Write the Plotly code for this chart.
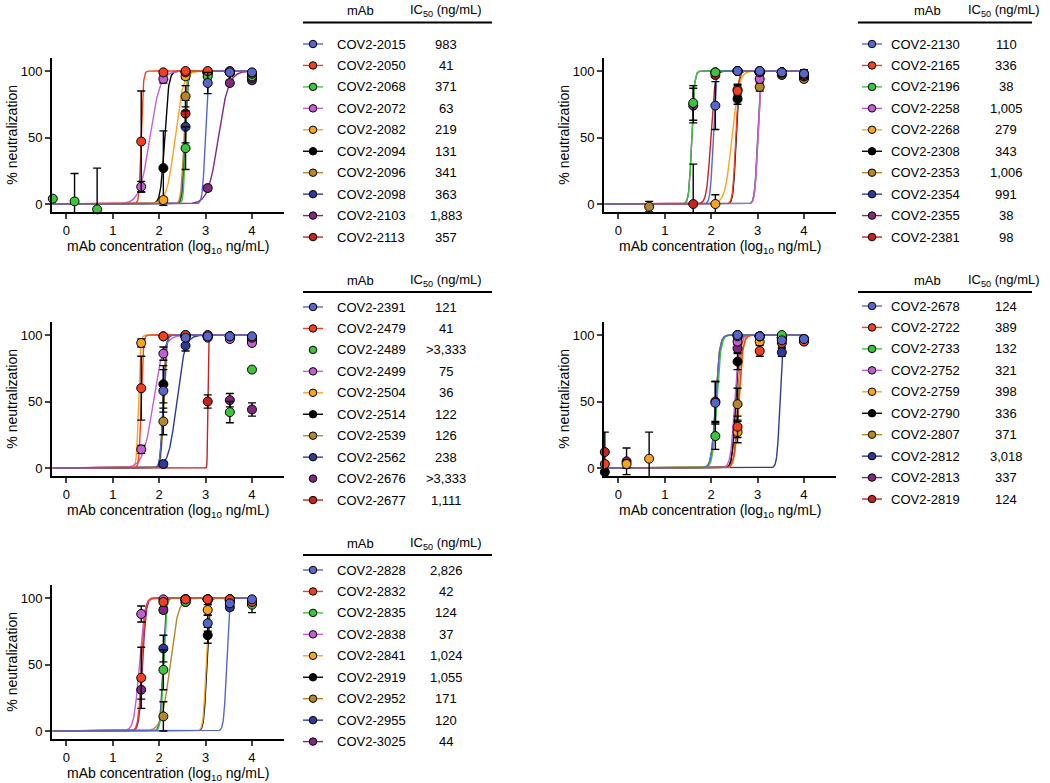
import numpy as np
import plotly.graph_objects as go

# ---------------- data ----------------
CONC = [10000, 3333, 1111, 370, 123, 41, 13.7, 4.6, 1.5, 0.51]   # ng/mL (3-fold dilutions)
COLORS = ["#5866cc", "#f2401f", "#3cc43c", "#c25fd2", "#f9a41e",
          "#000000", "#b3882a", "#2f3a96", "#7f2a7c", "#c4231f"]
N = None

P1_NAMES = ["COV2-2015", "COV2-2050", "COV2-2068", "COV2-2072", "COV2-2082",
            "COV2-2094", "COV2-2096", "COV2-2098", "COV2-2103", "COV2-2113"]
P1_IC50 = ["983", "41", "371", "63", "219", "131", "341", "363", "1,883", "357"]
P1_HILL = [15, 20, 20, 4, 5, 10, 15, 15, 4, 15]
P1_VALUES = [
    [99, 99, 91, N, N, N, N, N, N, N],
    [98, 100, 100, 100, 99, 47, N, N, N, N],
    [96, 99, 96, 42, N, N, N, -4, 2, 4],
    [95, 99, 99, 99, 94, 13, N, N, N, N],
    [97, 99, 99, 96, 3, N, N, N, N, N],
    [96, 99, 99, 99, 27, N, N, N, N, N],
    [96, 99, 99, 81, N, N, N, N, N, N],
    [95, 99, 99, 58, N, N, N, N, N, N],
    [93, 91, 12, N, N, N, N, N, N, N],
    [97, 99, 98, 68, N, N, N, N, N, N],
]
P1_SD = [
    [2, 2, 8, 0, 0, 0, 0, 0, 0, 0],
    [1, 1, 1, 1, 1, 38, 0, 0, 0, 0],
    [2, 1, 2, 16, 0, 0, 0, 31, 21, 1],
    [2, 1, 1, 1, 3, 4, 0, 0, 0, 0],
    [2, 1, 1, 2, 2, 0, 0, 0, 0, 0],
    [2, 1, 1, 1, 28, 0, 0, 0, 0, 0],
    [2, 1, 1, 8, 0, 0, 0, 0, 0, 0],
    [2, 1, 1, 12, 0, 0, 0, 0, 0, 0],
    [2, 2, 2, 0, 0, 0, 0, 0, 0, 0],
    [2, 1, 2, 10, 0, 0, 0, 0, 0, 0],
]

P2_NAMES = ["COV2-2130", "COV2-2165", "COV2-2196", "COV2-2258", "COV2-2268",
            "COV2-2308", "COV2-2353", "COV2-2354", "COV2-2355", "COV2-2381"]
P2_IC50 = ["110", "336", "38", "1,005", "279", "343", "1,006", "991", "38", "98"]
P2_HILL = [15, 15, 15, 15, 6, 15, 15, 15, 15, 10]
P2_VALUES = [
    [98, 99, 100, 100, 74, N, N, N, N, N],
    [97, 99, 99, 85, N, N, N, N, N, N],
    [98, 99, 100, 100, 99, 76, N, N, N, N],
    [96, 98, 94, N, N, N, N, N, N, N],
    [97, 99, 99, 86, 0, N, N, N, N, N],
    [96, 99, 99, 79, N, N, N, N, N, N],
    [94, 97, 88, N, N, N, N, -2, N, N],
    [97, 99, 99, N, N, N, N, N, N, N],
    [97, 99, 99, 100, 99, 74, N, N, N, N],
    [96, 99, 99, 100, 97, 0, N, N, N, N],
]
P2_SD = [
    [3, 1, 1, 1, 18, 0, 0, 0, 0, 0],
    [2, 1, 1, 4, 0, 0, 0, 0, 0, 0],
    [2, 1, 1, 1, 1, 13, 0, 0, 0, 0],
    [2, 1, 2, 0, 0, 0, 0, 0, 0, 0],
    [2, 1, 1, 4, 7, 0, 0, 0, 0, 0],
    [2, 1, 1, 4, 0, 0, 0, 0, 0, 0],
    [2, 2, 3, 0, 0, 0, 0, 4, 0, 0],
    [2, 1, 1, 0, 0, 0, 0, 0, 0, 0],
    [2, 1, 1, 1, 1, 13, 0, 0, 0, 0],
    [3, 1, 1, 1, 2, 30, 0, 0, 0, 0],
]

P3_NAMES = ["COV2-2391", "COV2-2479", "COV2-2489", "COV2-2499", "COV2-2504",
            "COV2-2514", "COV2-2539", "COV2-2562", "COV2-2676", "COV2-2677"]
P3_IC50 = ["121", "41", ">3,333", "75", "36", "122", "126", "238", ">3,333", "1,111"]
P3_HILL = [15, 20, None, 4, 20, 15, 15, 5, None, 80]
P3_VALUES = [
    [99, 99, 99, 98, 58, N, N, N, N, N],
    [98, 99, 100, 100, 99, 60, N, N, N, N],
    [74, 42, N, N, N, N, N, N, N, N],
    [94, 97, 98, 99, 86, 14, N, N, N, N],
    [97, 99, 99, 100, 99, 94, N, N, N, N],
    [97, 99, 99, 99, 63, N, N, N, N, N],
    [97, 99, 99, 99, 35, N, N, N, N, N],
    [96, 98, 99, 92, 3, N, N, N, N, N],
    [44, 51, N, N, N, N, N, N, N, N],
    [98, 99, 50, N, N, N, N, N, N, N],
]
P3_SD = [
    [1, 1, 1, 1, 16, 0, 0, 0, 0, 0],
    [1, 1, 1, 1, 1, 24, 0, 0, 0, 0],
    [1, 8, 0, 0, 0, 0, 0, 0, 0, 0],
    [2, 2, 1, 1, 5, 3, 0, 0, 0, 0],
    [1, 1, 1, 1, 1, 3, 0, 0, 0, 0],
    [2, 1, 1, 1, 14, 0, 0, 0, 0, 0],
    [2, 1, 1, 1, 10, 0, 0, 0, 0, 0],
    [2, 2, 1, 4, 2, 0, 0, 0, 0, 0],
    [5, 5, 0, 0, 0, 0, 0, 0, 0, 0],
    [1, 1, 5, 0, 0, 0, 0, 0, 0, 0],
]

P4_NAMES = ["COV2-2678", "COV2-2722", "COV2-2733", "COV2-2752", "COV2-2759",
            "COV2-2790", "COV2-2807", "COV2-2812", "COV2-2813", "COV2-2819"]
P4_IC50 = ["124", "389", "132", "321", "398", "336", "371", "3,018", "337", "124"]
P4_HILL = [10, 10, 10, 10, 10, 12, 12, 15, 12, 10]
P4_VALUES = [
    [97, 96, 99, 100, 49, N, N, N, N, N],
    [95, 94, 88, 31, N, N, N, N, N, 3],
    [97, 100, 99, 99, 24, N, N, N, N, N],
    [96, 98, 99, 95, N, N, N, N, N, N],
    [96, 97, 95, 27, N, N, N, 7, 3, N],
    [96, 98, 99, 80, N, N, N, N, N, -3],
    [96, 98, 99, 48, N, N, N, N, N, N],
    [97, 87, N, N, N, N, N, N, N, N],
    [96, 98, 99, 90, N, N, N, N, 5, N],
    [96, 97, 99, 100, 50, N, N, N, N, 12],
]
P4_SD = [
    [2, 2, 1, 1, 16, 0, 0, 0, 0, 0],
    [2, 3, 4, 8, 0, 0, 0, 0, 0, 1],
    [1, 1, 1, 1, 10, 0, 0, 0, 0, 0],
    [1, 1, 1, 2, 0, 0, 0, 0, 0, 0],
    [1, 2, 2, 8, 0, 0, 0, 20, 3, 0],
    [1, 1, 1, 6, 0, 0, 0, 0, 0, 2],
    [1, 1, 1, 12, 0, 0, 0, 0, 0, 0],
    [2, 3, 0, 0, 0, 0, 0, 0, 0, 0],
    [1, 1, 1, 3, 0, 0, 0, 0, 10, 0],
    [1, 2, 1, 1, 15, 0, 0, 0, 0, 15],
]

P5_NAMES = ["COV2-2828", "COV2-2832", "COV2-2835", "COV2-2838", "COV2-2841",
            "COV2-2919", "COV2-2952", "COV2-2955", "COV2-3025"]
P5_IC50 = ["2,826", "42", "124", "37", "1,024", "1,055", "171", "120", "44"]
P5_HILL = [15, 12, 15, 8, 15, 15, 5, 15, 12]
P5_VALUES = [
    [99, 96, 81, N, N, N, N, N, N, N],
    [97, 99, 99, 99, 97, 40, N, N, N, N],
    [95, 98, 99, 97, 46, N, N, N, N, N],
    [97, 99, 99, 99, 99, 88, N, N, N, N],
    [97, 99, 91, N, N, N, N, N, N, N],
    [97, 99, 72, N, N, N, N, N, N, N],
    [96, 98, 99, 97, 11, N, N, N, N, N],
    [96, 93, 99, 99, 62, N, N, N, N, N],
    [96, 98, 99, 99, 91, 31, N, N, N, N],
]
P5_SD = [
    [1, 2, 6, 0, 0, 0, 0, 0, 0, 0],
    [1, 1, 1, 1, 1, 23, 0, 0, 0, 0],
    [6, 1, 1, 1, 15, 0, 0, 0, 0, 0],
    [1, 1, 1, 1, 1, 6, 0, 0, 0, 0],
    [1, 1, 4, 0, 0, 0, 0, 0, 0, 0],
    [1, 1, 6, 0, 0, 0, 0, 0, 0, 0],
    [1, 1, 1, 1, 11, 0, 0, 0, 0, 0],
    [1, 2, 1, 1, 10, 0, 0, 0, 0, 0],
    [1, 1, 1, 1, 2, 7, 0, 0, 0, 0],
]

PANELS = [
    (P1_NAMES, P1_IC50, P1_HILL, P1_VALUES, P1_SD),
    (P2_NAMES, P2_IC50, P2_HILL, P2_VALUES, P2_SD),
    (P3_NAMES, P3_IC50, P3_HILL, P3_VALUES, P3_SD),
    (P4_NAMES, P4_IC50, P4_HILL, P4_VALUES, P4_SD),
    (P5_NAMES, P5_IC50, P5_HILL, P5_VALUES, P5_SD),
]

# ---------------- layout geometry ----------------
W, H = 1050, 783
FONT = "Arial, Liberation Sans, sans-serif"
X_RANGE = [-0.31, 4.7]
Y_RANGE = [-6, 110]
PX_PER_X = 46.4
PLOT_W = (X_RANGE[1] - X_RANGE[0]) * PX_PER_X
LEFT_X0 = [52, 604, 52, 604, 52]
TOP_Y0 = [57.7, 57.7, 321.7, 321.7, 584.7]
PLOT_H = 154.3

# table layout: (marker x, name x, value x, rule x0, rule x1, header y, rule y, first row y, mAb hdr x, IC50 hdr x)
TABLES = [
    (313, 335, 446, 303, 492, 10, 22.5, 44, 360, 446),
    (872, 889, 1006, 858, 1032, 10, 22.5, 44, 927, 1004),
    (313, 335, 446, 303, 492, 280, 292, 307, 360, 446),
    (872, 889, 1006, 858, 1032, 280, 292, 306, 927, 1004),
    (313, 335, 446, 303, 492, 543, 555, 570, 360, 446),
]
ROW_STEP = 21.45

fig = go.Figure()
layout = dict(width=W, height=H, margin=dict(l=0, r=0, t=0, b=0),
              paper_bgcolor="white", plot_bgcolor="rgba(0,0,0,0)",
              showlegend=False, font=dict(family=FONT, color="black"))

logc = np.log10(np.array(CONC, dtype=float))
xfit = np.linspace(logc.min(), logc.max(), 600)

annotations = []
shapes = []

for p, (names, ic50, hill, vals, sds) in enumerate(PANELS):
    k = p + 1
    xa, ya = ("x%d" % k if k > 1 else "x"), ("y%d" % k if k > 1 else "y")
    x0 = LEFT_X0[p]
    top = TOP_Y0[p]
    layout["xaxis%d" % k if k > 1 else "xaxis"] = dict(
        domain=[x0 / W, (x0 + PLOT_W) / W], anchor=ya, range=X_RANGE,
        tickvals=[0, 1, 2, 3, 4], ticks="outside", ticklen=5, tickwidth=1.5,
        showline=True, linewidth=2, linecolor="black", showgrid=False, zeroline=False,
        tickfont=dict(size=13, family=FONT),
        title=dict(text="mAb concentration (log<sub>10</sub> ng/mL)",
                   font=dict(size=14, family=FONT), standoff=2))
    layout["yaxis%d" % k if k > 1 else "yaxis"] = dict(
        domain=[1 - (top + PLOT_H) / H, 1 - top / H], anchor=xa, range=Y_RANGE,
        tickvals=[0, 50, 100], ticks="outside", ticklen=5, tickwidth=1.5,
        showline=True, linewidth=2, linecolor="black", showgrid=False, zeroline=False,
        tickfont=dict(size=13, family=FONT),
        title=dict(text="% neutralization", font=dict(size=14, family=FONT), standoff=0))

    order = list(range(len(names)))[::-1]   # first series drawn on top
    # fitted curves
    for i in order:
        if hill[i] is None:
            continue
        lic = np.log10(float(ic50[i].replace(",", "").replace(">", "")))
        yfit = 100.0 / (1.0 + 10 ** ((lic - xfit) * hill[i]))
        fig.add_trace(go.Scatter(x=xfit, y=yfit, mode="lines", xaxis=xa, yaxis=ya,
                                 line=dict(color=COLORS[i], width=1.4),
                                 hoverinfo="skip"))
    # data points with SD error bars
    for i in order:
        xs = [c for c, v in zip(logc, vals[i]) if v is not None]
        ys = [v for v in vals[i] if v is not None]
        es = [s for s, v in zip(sds[i], vals[i]) if v is not None]
        fig.add_trace(go.Scatter(x=xs, y=ys, mode="markers", xaxis=xa, yaxis=ya, name=names[i],
                                 marker=dict(size=9, color=COLORS[i],
                                             line=dict(color="black", width=1)),
                                 error_y=dict(type="data", array=es, color="black",
                                              thickness=1.4, width=4),
                                 cliponaxis=False))

    # table
    mx, nx, vx, rx0, rx1, hy, ry, r0, mhx, ihx = TABLES[p]
    annotations.append(dict(x=mhx, y=hy, xref="x6", yref="y6", text="mAb", showarrow=False,
                            font=dict(size=13, family=FONT)))
    annotations.append(dict(x=ihx, y=hy, xref="x6", yref="y6",
                            text="IC<sub>50</sub> (ng/mL)", showarrow=False,
                            font=dict(size=13, family=FONT)))
    shapes.append(dict(type="line", xref="x6", yref="y6", x0=rx0, x1=rx1, y0=ry, y1=ry,
                       line=dict(color="black", width=2)))
    for i, name in enumerate(names):
        ry_i = r0 + i * ROW_STEP
        if hill[i] is not None:
            fig.add_trace(go.Scatter(x=[mx - 10, mx + 10], y=[ry_i, ry_i], mode="lines",
                                     xaxis="x6", yaxis="y6", hoverinfo="skip",
                                     line=dict(color=COLORS[i], width=1.4)))
        fig.add_trace(go.Scatter(x=[mx], y=[ry_i], mode="markers", xaxis="x6", yaxis="y6",
                                 hoverinfo="skip",
                                 marker=dict(size=7.5, color=COLORS[i],
                                             line=dict(color="black", width=1))))
        annotations.append(dict(x=nx, y=ry_i, xref="x6", yref="y6", text=name,
                                showarrow=False, xanchor="left",
                                font=dict(size=13, family=FONT)))
        annotations.append(dict(x=vx, y=ry_i, xref="x6", yref="y6", text=ic50[i],
                                showarrow=False, xanchor="center",
                                font=dict(size=13, family=FONT)))

layout["xaxis6"] = dict(domain=[0, 1], range=[0, W], visible=False, anchor="y6", fixedrange=True)
layout["yaxis6"] = dict(domain=[0, 1], range=[H, 0], visible=False, anchor="x6", fixedrange=True)
layout["annotations"] = annotations
layout["shapes"] = shapes
fig.update_layout(**layout)
# remove the default 8px page margin so the figure fills the window exactly
fig.write_html("out.html", config={"displayModeBar": False},
               post_script="document.body.style.margin='0';document.body.style.overflow='hidden';")
